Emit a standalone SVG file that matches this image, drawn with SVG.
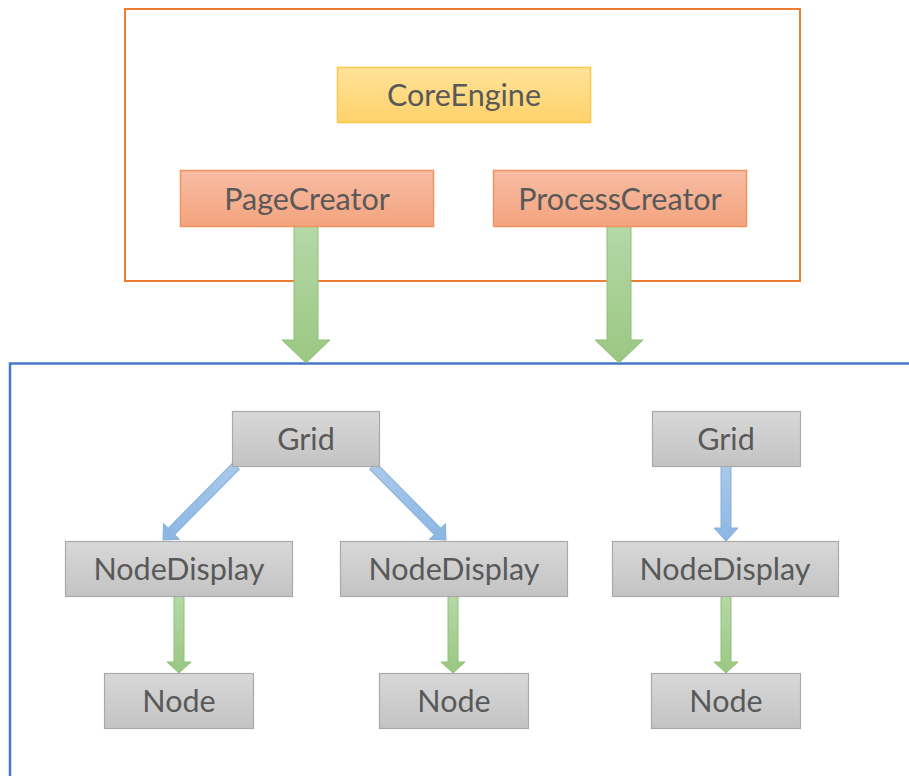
<svg xmlns="http://www.w3.org/2000/svg" width="909" height="776" viewBox="0 0 909 776">
  <defs>
    <linearGradient id="gYellow" x1="0" y1="0" x2="0" y2="1">
      <stop offset="0" stop-color="#ffe29a"/>
      <stop offset="1" stop-color="#ffd26a"/>
    </linearGradient>
    <linearGradient id="gOrange" x1="0" y1="0" x2="0" y2="1">
      <stop offset="0" stop-color="#f7bca4"/>
      <stop offset="1" stop-color="#f4a47e"/>
    </linearGradient>
    <linearGradient id="gGrey" x1="0" y1="0" x2="0" y2="1">
      <stop offset="0" stop-color="#d8d8d8"/>
      <stop offset="1" stop-color="#c3c3c3"/>
    </linearGradient>
    <linearGradient id="gGreen" x1="0" y1="0" x2="0" y2="1">
      <stop offset="0" stop-color="#b5d8a8"/>
      <stop offset="1" stop-color="#9ac781"/>
    </linearGradient>
    <linearGradient id="gBlue" x1="0" y1="0" x2="0" y2="1">
      <stop offset="0" stop-color="#a9c9ea"/>
      <stop offset="1" stop-color="#8bb6e3"/>
    </linearGradient>
  </defs>
  <style>
    .frame-core { fill: none; stroke: #ed7d31; stroke-width: 2; }
    .frame-view { fill: none; stroke: #4a78c8; stroke-width: 2.5; }
    .yellow { fill: url(#gYellow); stroke: #f8c84a; stroke-width: 1.5; }
    .orange { fill: url(#gOrange); stroke: #f0945f; stroke-width: 1.5; }
    .grey { fill: url(#gGrey); stroke: #a9a9a9; stroke-width: 1.2; }
    .label { font-family: Lato, "Open Sans", "Liberation Sans", sans-serif; font-size: 30.5px; fill: #595959; text-anchor: middle; }
    .green { fill: url(#gGreen); stroke: #8fc178; stroke-width: 1; }
    .blue { fill: url(#gBlue); stroke: #86b0dc; stroke-width: 1; }
  </style>

  <rect width="909" height="776" fill="#ffffff"/>

  <!-- containers -->
  <rect id="core-frame" class="frame-core" x="125" y="9" width="675" height="272"/>
  <rect id="view-frame" class="frame-view" x="10" y="363.5" width="920" height="430"/>

  <!-- connectors -->
  <g id="connectors">
    <!-- creators to view layer -->
    <polygon class="green" points="294,226 318,226 318,340 330,340 306,363 282,340 294,340"/>
    <polygon class="green" points="607,226 631,226 631,340 643,340 619,363 595,340 607,340"/>
    <!-- grid to node displays -->
    <polygon class="blue" transform="translate(236,466) rotate(44.6)" points="-4.5,0 4.5,0 4.5,92 11,92 0,104 -11,92 -4.5,92"/>
    <polygon class="blue" transform="translate(373,466) rotate(-44.6)" points="-4.5,0 4.5,0 4.5,92 11,92 0,104 -11,92 -4.5,92"/>
    <polygon class="blue" points="721,466 731,466 731,528 738,528 726,541 714,528 721,528"/>
    <!-- node displays to nodes -->
    <polygon class="green" points="174,596 184,596 184,662 191,662 179,673 167,662 174,662"/>
    <polygon class="green" points="448,596 458,596 458,662 465,662 453,673 441,662 448,662"/>
    <polygon class="green" points="721,596 731,596 731,662 738,662 726,673 714,662 721,662"/>
  </g>

  <g id="core-engine">
    <rect class="yellow" x="337.5" y="67.5" width="253" height="55"/>
    <text class="label" x="464" y="106">CoreEngine</text>
  </g>
  <g id="page-creator">
    <rect class="orange" x="180.5" y="170.5" width="253" height="56"/>
    <text class="label" x="307" y="210">PageCreator</text>
  </g>
  <g id="process-creator">
    <rect class="orange" x="493.5" y="170.5" width="253" height="56"/>
    <text class="label" x="620" y="210">ProcessCreator</text>
  </g>

  <g id="grid-1">
    <rect class="grey" x="232.5" y="411.5" width="147" height="55"/>
    <text class="label" x="306" y="450">Grid</text>
  </g>
  <g id="grid-2">
    <rect class="grey" x="652.5" y="411.5" width="148" height="55"/>
    <text class="label" x="726" y="450">Grid</text>
  </g>

  <g id="node-display-1">
    <rect class="grey" x="65.5" y="541.5" width="227" height="55"/>
    <text class="label" x="179" y="580">NodeDisplay</text>
  </g>
  <g id="node-display-2">
    <rect class="grey" x="340.5" y="541.5" width="227" height="55"/>
    <text class="label" x="454" y="580">NodeDisplay</text>
  </g>
  <g id="node-display-3">
    <rect class="grey" x="612.5" y="541.5" width="226" height="55"/>
    <text class="label" x="725" y="580">NodeDisplay</text>
  </g>

  <g id="node-1">
    <rect class="grey" x="104.5" y="673.5" width="149" height="55"/>
    <text class="label" x="179" y="712">Node</text>
  </g>
  <g id="node-2">
    <rect class="grey" x="379.5" y="673.5" width="149" height="55"/>
    <text class="label" x="454" y="712">Node</text>
  </g>
  <g id="node-3">
    <rect class="grey" x="651.5" y="673.5" width="149" height="55"/>
    <text class="label" x="726" y="712">Node</text>
  </g>
</svg>
